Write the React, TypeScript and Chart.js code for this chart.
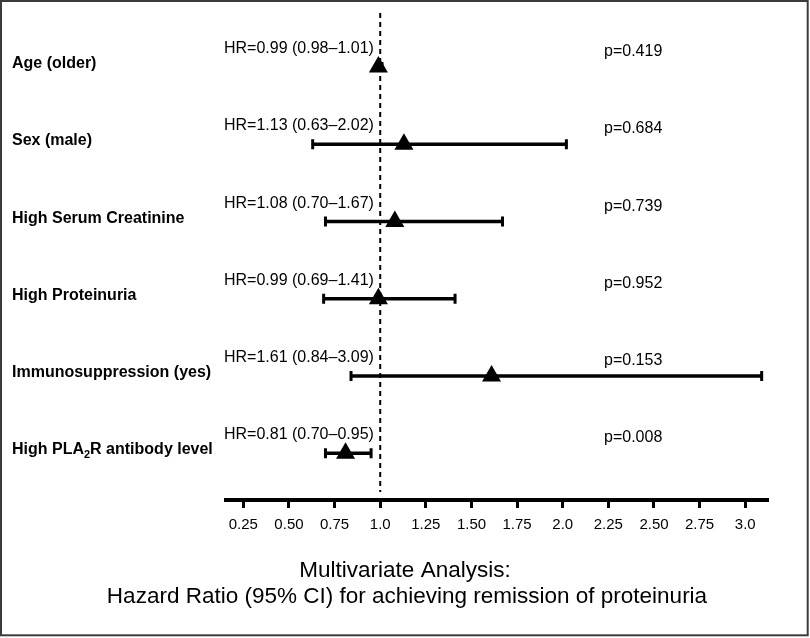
import React, { useEffect, useRef } from 'react';
import { Chart, registerables } from 'chart.js';

Chart.register(...registerables);

// ---------- data ----------
const factors = [
  'Age (older)',
  'Sex (male)',
  'High Serum Creatinine',
  'High Proteinuria',
  'Immunosuppression (yes)',
  'High PLA2R antibody level',
];
const hazardRatios = [0.99, 1.13, 1.08, 0.99, 1.61, 0.81];
const ciLower = [0.98, 0.63, 0.7, 0.69, 0.84, 0.7];
const ciUpper = [1.01, 2.02, 1.67, 1.41, 3.09, 0.95];
const hrLabels = ['0.99', '1.13', '1.08', '0.99', '1.61', '0.81'];
const ciLabels = ['0.98–1.01', '0.63–2.02', '0.70–1.67', '0.69–1.41', '0.84–3.09', '0.70–0.95'];
const pValues = ['0.419', '0.684', '0.739', '0.952', '0.153', '0.008'];
const tickValues = [0.25, 0.5, 0.75, 1.0, 1.25, 1.5, 1.75, 2.0, 2.25, 2.5, 2.75, 3.0];
const tickLabels = ['0.25', '0.50', '0.75', '1.0', '1.25', '1.50', '1.75', '2.0', '2.25', '2.50', '2.75', '3.0'];
const referenceHR = 1.0;
const titleLines = [
  'Multivariate Analysis:',
  'Hazard Ratio (95% CI) for achieving remission of proteinuria',
];

const FONT = '"Liberation Sans", Arial, Helvetica, sans-serif';

const forestPlugin = {
  id: 'forestPlugin',
  beforeDatasetsDraw(chart: any) {
    const { ctx, chartArea } = chart;
    const x = chart.scales.x;
    const y = chart.scales.y;
    ctx.save();
    // reference dashed line
    const rx = x.getPixelForValue(referenceHR);
    ctx.strokeStyle = '#000';
    ctx.lineWidth = 2;
    ctx.setLineDash([5, 4]);
    ctx.beginPath();
    ctx.moveTo(rx, chartArea.top + 2);
    ctx.lineTo(rx, chartArea.bottom - 8);
    ctx.stroke();
    ctx.setLineDash([]);
    // CI bars
    factors.forEach((_, i) => {
      const yy = y.getPixelForValue(i + 1);
      const x1 = x.getPixelForValue(ciLower[i]);
      const x2 = x.getPixelForValue(ciUpper[i]);
      ctx.lineWidth = 3.5;
      ctx.beginPath();
      ctx.moveTo(x1, yy);
      ctx.lineTo(x2, yy);
      ctx.stroke();
      ctx.lineWidth = 3;
      ctx.beginPath();
      ctx.moveTo(x1, yy - 5);
      ctx.lineTo(x1, yy + 5);
      ctx.moveTo(x2, yy - 5);
      ctx.lineTo(x2, yy + 5);
      ctx.stroke();
    });
    ctx.restore();
  },
  afterDraw(chart: any) {
    const { ctx, width } = chart;
    const y = chart.scales.y;
    ctx.save();
    ctx.fillStyle = '#000';
    ctx.textBaseline = 'alphabetic';
    ctx.textAlign = 'left';
    factors.forEach((name, i) => {
      const yy = y.getPixelForValue(i + 1);
      // factor label
      ctx.font = `bold 16px ${FONT}`;
      if (name.includes('PLA2R')) {
        const [a, b] = name.split('PLA2R');
        let cx = 12;
        const first = a + 'PLA';
        ctx.fillText(first, cx, yy + 1);
        cx += ctx.measureText(first).width;
        ctx.font = `bold 11px ${FONT}`;
        ctx.fillText('2', cx, yy + 5);
        cx += ctx.measureText('2').width;
        ctx.font = `bold 16px ${FONT}`;
        ctx.fillText('R' + b, cx, yy + 1);
      } else {
        ctx.fillText(name, 12, yy + 1);
      }
      // HR text
      ctx.font = `16px ${FONT}`;
      ctx.fillText(`HR=${hrLabels[i]} (${ciLabels[i]})`, 224, yy - 14);
      // p value
      ctx.fillText(`p=${pValues[i]}`, 604, yy - 11);
    });
    // bottom title
    ctx.font = `22.5px ${FONT}`;
    ctx.textAlign = 'center';
    ctx.fillText(titleLines[0], width / 2, 577);
    ctx.fillText(titleLines[1], width / 2 + 2, 603);
    // frame
    ctx.strokeStyle = '#3c3c3c';
    ctx.lineWidth = 2;
    ctx.strokeRect(1, 1, 806.7, 634.3);
    ctx.restore();
  },
};

export default function App() {
  const canvasRef = useRef<HTMLCanvasElement | null>(null);

  useEffect(() => {
    const canvas = canvasRef.current;
    if (!canvas) return;
    Chart.defaults.font.family = FONT;
    const chart = new Chart(canvas, {
      type: 'scatter',
      data: {
        datasets: [
          {
            label: 'Hazard ratio',
            data: hazardRatios.map((v, i) => ({ x: v, y: i + 1 })),
            pointStyle: 'triangle',
            pointRadius: 11,
            pointHoverRadius: 11,
            backgroundColor: '#000',
            borderColor: '#000',
            borderWidth: 0,
          },
        ],
      },
      options: {
        responsive: false,
        animation: false,
        devicePixelRatio: 1,
        layout: { padding: { left: 226, right: 42.5, top: 10, bottom: 98 } },
        plugins: {
          legend: { display: false },
          tooltip: { enabled: false },
          title: { display: false },
        },
        scales: {
          x: {
            type: 'linear',
            position: 'bottom',
            min: 0.155,
            max: 3.122,
            afterBuildTicks: (scale: any) => {
              scale.ticks = tickValues.map((v) => ({ value: v }));
            },
            afterFit: (scale: any) => {
              scale.height = 40;
            },
            grid: {
              display: true,
              drawOnChartArea: false,
              drawTicks: true,
              tickLength: 8,
              color: '#000',
              lineWidth: 3,
            },
            border: { display: true, color: '#000', width: 4 },
            ticks: {
              padding: 8,
              color: '#000',
              font: { size: 15, family: FONT },
              maxRotation: 0,
              autoSkip: false,
              callback: (value: any) => {
                const idx = tickValues.findIndex((t) => Math.abs(t - Number(value)) < 1e-6);
                return idx >= 0 ? tickLabels[idx] : '';
              },
            },
          },
          y: {
            type: 'linear',
            display: false,
            min: 0.274,
            max: 6.605,
            reverse: true,
          },
        },
      },
      plugins: [forestPlugin],
    });
    return () => chart.destroy();
  }, []);

  return (
    <div style={{ position: 'absolute', left: 0, top: 0, width: 810, height: 638, background: '#fff' }}>
      <canvas ref={canvasRef} width={810} height={638} style={{ display: 'block' }} />
    </div>
  );
}
